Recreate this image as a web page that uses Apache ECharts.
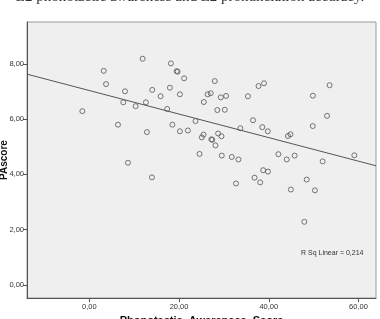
<!DOCTYPE html>
<html>
<head>
<meta charset="utf-8">
<script src="https://cdn.jsdelivr.net/npm/echarts@6/dist/echarts.min.js"></script>
<style>html,body{margin:0;padding:0;background:#fff;}#c{width:380px;height:319px;}</style>
</head>
<body>
<div id="c"></div>
<script>
// Phonotactic_Awareness_Score (x) and PAscore (y)
const xValues = [-1.56,3.20,3.72,6.38,7.56,7.94,8.61,10.32,11.88,12.61,12.84,13.95,14.02,15.88,17.35,17.95,18.18,18.51,19.47,19.67,20.18,20.18,21.13,21.96,23.67,24.56,25.07,25.45,25.52,26.38,27.05,27.19,27.40,27.96,28.12,28.52,28.70,29.30,29.45,29.52,30.19,30.48,31.75,32.68,33.24,33.66,35.35,36.49,36.82,37.71,38.08,38.55,38.75,38.93,39.82,39.78,42.14,44.00,44.27,44.83,44.92,45.76,47.92,48.45,49.83,49.81,50.28,52.01,52.99,53.55,59.07];
const yValues = [6.29,7.75,7.27,5.80,6.61,7.01,4.42,6.47,8.19,6.61,5.53,3.89,7.06,6.83,6.37,7.14,8.02,5.80,7.74,7.72,6.90,5.56,7.48,5.59,5.93,4.74,5.34,5.44,6.62,6.90,6.94,5.27,5.25,7.38,5.05,6.33,5.48,6.79,5.38,4.68,6.34,6.84,4.63,3.67,4.54,5.67,6.83,5.96,3.88,7.20,3.71,5.71,4.15,7.30,4.10,5.56,4.73,4.54,5.39,5.45,3.45,4.68,2.28,3.81,6.85,5.75,3.42,4.47,6.12,7.23,4.69];
// fitted line end points (x, y)
const fitX = [-13.9, 63.9];
const fitY = [7.63, 4.31];
const xTicks = [0, 20, 40, 60];
const yTicks = [0, 2, 4, 6, 8];
const titleText = 'L2 phonotactic awareness and L2 pronunciation accuracy.';
const yName = 'PAscore';
const rsqText = 'R Sq Linear = 0,214';

const fmt = v => v.toFixed(2).replace('.', ',');
const points = xValues.map((x, i) => [x, yValues[i]]);
const fit = fitX.map((x, i) => [x, fitY[i]]);

const chart = echarts.init(document.getElementById('c'));
chart.setOption({
  animation: false,
  grid: {left: 27, right: 4, top: 22, bottom: 21, outerBoundsMode: 'none', containLabel: false,
         show: true, backgroundColor: '#efefef', borderColor: '#9a9a9a', borderWidth: 1},
  xAxis: {
    type: 'value', min: -13.9, max: 63.9,
    name: 'Phonotactic_Awareness_Score', nameLocation: 'middle', nameGap: 15,
    nameTextStyle: {fontFamily: 'Liberation Sans', fontWeight: 'bold', fontSize: 11, color: '#111'},
    axisLine: {onZero: false, lineStyle: {color: '#555'}},
    axisTick: {show: true, length: 4, customValues: xTicks, lineStyle: {color: '#555'}},
    axisLabel: {customValues: xTicks, formatter: fmt, fontSize: 7.5, color: '#333', margin: 5, fontFamily: 'Liberation Sans'},
    splitLine: {show: false}
  },
  yAxis: {
    type: 'value', min: -0.48, max: 9.52,
    axisLine: {show: true, onZero: false, lineStyle: {color: '#555'}},
    axisTick: {show: true, length: 4, customValues: yTicks, lineStyle: {color: '#555'}},
    axisLabel: {customValues: yTicks, formatter: fmt, fontSize: 7.5, color: '#333', margin: 3, fontFamily: 'Liberation Sans'},
    splitLine: {show: false}
  },
  graphic: [
    {type: 'text', left: 'center', top: -10, style: {text: titleText, font: '15px "Liberation Serif"', fill: '#333'}},
    {type: 'text', x: 4, y: 160, rotation: Math.PI / 2,
     style: {text: yName, font: 'bold 10px "Liberation Sans"', fill: '#111', align: 'center', verticalAlign: 'middle'}},
    {type: 'text', left: 301, top: 250, style: {text: rsqText, font: '7px "Liberation Sans"', fill: '#333'}}
  ],
  series: [
    {type: 'scatter', data: points, symbol: 'circle', symbolSize: 5,
     itemStyle: {color: 'rgba(0,0,0,0)', borderColor: '#555', borderWidth: 1}},
    {type: 'line', data: fit, symbol: 'none', lineStyle: {color: '#555', width: 1}, z: 1}
  ]
});
</script>
</body>
</html>
